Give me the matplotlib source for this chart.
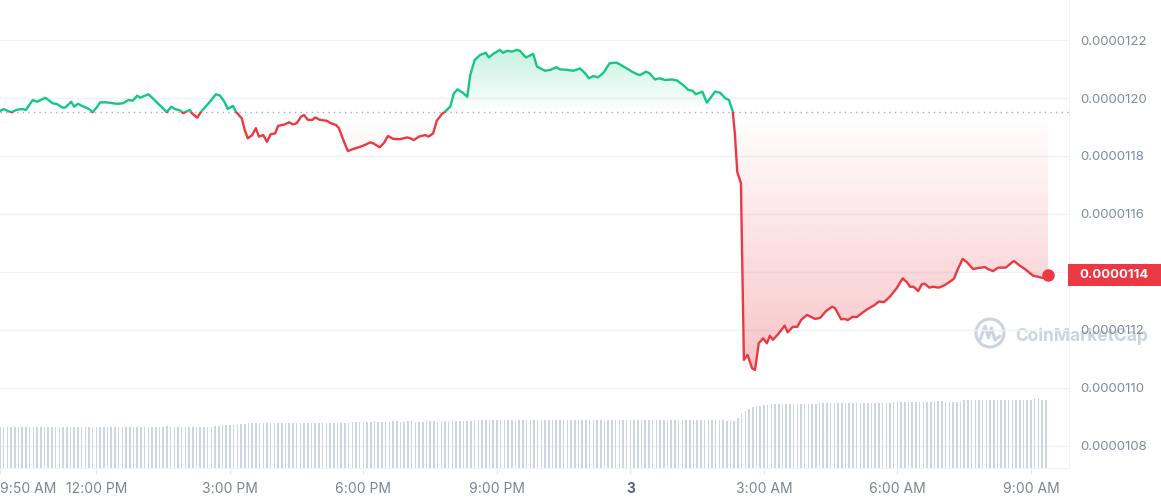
import numpy as np
import matplotlib.pyplot as plt
import matplotlib.transforms as mtransforms
from matplotlib.patches import Rectangle, Circle
from matplotlib.path import Path
from matplotlib.colors import to_rgb

plt.rcParams['font.family'] = ['Inter', 'DejaVu Sans']

START_H = 9 + 50 / 60  # chart starts at 9:50 AM

# minutes since 9:50 AM, price in units of 1e-7
minutes = [
    0, 5, 11, 16, 22, 30, 35, 44, 50, 61, 71, 77, 84, 88, 96, 100, 105, 111, 119, 125,
    131, 135, 144, 158, 166, 173, 179, 185, 189, 200, 206, 225, 231, 236, 243, 247, 256,
    259, 266, 270, 276, 283, 291, 297, 303, 307, 314, 318, 321, 326, 330, 334, 340, 345, 349, 355, 360,
    365, 371, 375, 384, 390, 395, 400, 406, 410, 415, 421, 425, 431, 441, 446, 453, 457, 462, 469, 476,
    485, 492, 499,
    503, 512, 518, 523, 530, 539, 549, 553, 558, 565, 573, 578, 584, 589, 596, 600, 607, 612, 617, 624,
    630, 634, 640, 647, 655, 659, 665, 674, 678, 684, 690, 697, 701, 709, 719, 724, 731,
    735, 742, 750, 755, 764, 773, 782, 789, 794, 800, 806, 813, 822, 831, 835, 845, 852, 859, 863, 871,
    876, 883, 889, 897, 906, 913, 921, 928, 934, 938, 947, 953, 959, 964, 971, 978, 983, 988,
    991, 994, 999, 1003, 1008, 1014, 1018, 1023, 1029, 1034, 1038, 1042, 1049, 1058, 1062, 1069, 1075,
    1080, 1088, 1099, 1106, 1114, 1122, 1126, 1134, 1139, 1143, 1150, 1155, 1162, 1169, 1178, 1185, 1192,
    1200, 1209, 1217, 1223, 1227, 1232, 1238, 1243, 1247, 1253, 1258, 1266, 1274, 1281, 1286, 1292,
    1298, 1304, 1312, 1317, 1328, 1332, 1339, 1346, 1356, 1367, 1375, 1382, 1393, 1399, 1406, 1413,
]
price_e7 = [
    119.55, 119.62, 119.55, 119.51, 119.59, 119.62, 119.59, 119.93, 119.87, 120.01, 119.82, 119.79,
    119.67, 119.67, 119.87, 119.70, 119.80, 119.72, 119.64, 119.51, 119.70, 119.85, 119.85, 119.80,
    119.82, 119.93, 119.91, 120.08, 120.01, 120.13, 119.99, 119.51, 119.70, 119.62, 119.57, 119.48, 119.59,
    119.47, 119.32, 119.49, 119.67, 119.87, 120.13, 120.08, 119.85, 119.62, 119.73, 119.53, 119.44,
    119.30, 118.90, 118.61, 118.72, 118.96, 118.67, 118.72, 118.49, 118.75, 118.78, 119.04, 119.09,
    119.16, 119.09, 119.13, 119.36, 119.41, 119.25, 119.24, 119.33, 119.25, 119.21, 119.13, 119.07,
    118.96, 118.61, 118.17, 118.24, 118.31, 118.38, 118.47,
    118.44, 118.30, 118.46, 118.69, 118.59, 118.58, 118.64, 118.61, 118.55, 118.67, 118.72, 118.67,
    118.78, 119.22, 119.45, 119.53, 119.70, 120.16, 120.30, 120.18, 120.04, 120.79, 121.31, 121.48,
    121.56, 121.40, 121.52, 121.66, 121.56, 121.63, 121.60, 121.66, 121.63, 121.40, 121.52, 121.08, 120.99,
    120.94, 120.97, 121.06, 120.99, 120.97, 120.94, 121.02, 120.85, 120.68, 120.76, 120.71, 120.85,
    121.20, 121.22, 121.17, 121.02, 120.91, 120.82, 120.79, 120.91, 120.85, 120.64, 120.68, 120.62,
    120.64, 120.60, 120.45, 120.28, 120.25, 120.13, 120.22, 119.84, 120.04, 120.22, 120.18, 119.99,
    119.93, 119.53,
    118.72, 117.46, 117.06, 110.97, 111.14, 110.68, 110.62, 111.54, 111.71, 111.54, 111.80, 111.66,
    111.85, 112.15, 111.92, 112.11, 112.11, 112.34, 112.52, 112.38, 112.42, 112.66, 112.80, 112.75,
    112.37, 112.38, 112.34, 112.46, 112.44, 112.58, 112.71, 112.84, 112.98, 112.96,
    113.15, 113.44, 113.78, 113.64, 113.49, 113.49, 113.34, 113.58, 113.59, 113.46, 113.49, 113.46,
    113.55, 113.67, 113.76, 114.13, 114.45, 114.33, 114.10, 114.13, 114.17, 114.10, 114.03, 114.15,
    114.15, 114.38, 114.22, 114.10, 113.87, 113.84, 113.79, 113.90,
]
baseline_e7 = 119.52

# volume bars, one every 5 minutes (relative height)
volume = [
    41.5, 41.5, 41.5, 41.5, 41.5, 41.5, 41.5, 41.5, 41.5, 41.5, 41.5, 41.5,
    41.5, 41.5, 41.5, 41.5, 41.5, 41.5, 41.5, 41.5, 41.5, 41.5, 41.5, 41.5,
    41.5, 41.5, 41.5, 41.5, 41.5, 41.5, 41.5, 41.5, 41.5, 41.5, 41.5, 41.5,
    41.5, 41.5, 41.5, 41.5, 41.5, 41.5, 41.5, 41.5, 41.5, 42.5, 41.5, 41.5,
    41.5, 41.5, 41.5, 41.5, 41.5, 41.5, 41.5, 41.5, 41.5, 41.5, 42.5, 42.5,
    43, 43, 43.5, 43.5, 44, 44, 44.5, 45.5, 45.5, 45.5, 45.5, 45.5,
    45.5, 45.5, 45.5, 45.5, 45.5, 45.5, 45.5, 45.5, 45.5, 45.5, 45.5, 45.5,
    45.5, 45.5, 45.5, 45.5, 45.5, 45.5, 45.5, 45, 45, 45.5, 45.5, 46,
    46.5, 46, 46.5, 46.5, 46.5, 47, 46.5, 46.5, 46, 46.5, 47, 47,
    46.5, 46.5, 47, 47, 46.5, 46, 46.5, 47, 47, 47, 46.5, 47,
    47, 47, 47, 47, 47, 47, 47, 47, 48, 48, 48, 48,
    48, 48, 48, 48, 48, 48, 48, 48, 48, 48, 48, 48,
    48, 48, 48, 48, 48, 48, 48, 48, 48, 48, 48, 48,
    48, 48, 48, 48, 48, 48, 48, 48, 48, 48, 48, 48,
    48, 48, 48, 48, 48, 48, 48, 48, 48, 48, 48, 48,
    48, 48, 48, 48, 48, 48, 48, 48, 48, 48, 48, 48,
    48, 48, 48, 48, 47.5, 47, 47, 50, 54, 57, 59.5, 61,
    62, 62.5, 63, 63.5, 64, 64, 64, 64, 64.5, 64.5, 64.5, 64.5,
    64.5, 64.5, 64.5, 64.5, 64.5, 65, 65, 65, 65, 65, 65, 65,
    65, 65, 65, 65.5, 65.5, 65.5, 65.5, 65.5, 65.5, 65.5, 65.5, 65.5,
    65.5, 66, 66, 66, 66, 66, 66, 66, 66, 66, 66, 66,
    66, 67, 67, 66.5, 66.5, 66.5, 66.5, 66.5, 68, 68, 68, 68,
    68, 68, 68, 68, 68, 68, 68, 68, 68, 68, 68, 68,
    68, 68, 68, 69.5, 70, 68.5, 68.5,
]

x_ticks_h = [START_H, 12, 15, 18, 21, 24, 27, 30, 33]
x_tick_labels = ['9:50 AM', '12:00 PM', '3:00 PM', '6:00 PM', '9:00 PM', '3', '3:00 AM', '6:00 AM', '9:00 AM']
y_ticks_e7 = [108, 110, 112, 114, 116, 118, 120, 122]

GREEN = '#16c784'
RED = '#ea3943'
LABEL = '#808a9d'

t = START_H + np.array(minutes) / 60
p = np.array(price_e7) * 1e-7
base = baseline_e7 * 1e-7
ylo, yhi = 107.24e-7, 123.38e-7

fig = plt.figure(figsize=(11.61, 5.0), dpi=100)
ax = fig.add_axes([0, 0.064, 1069 / 1161, 0.936])
ax.patch.set_visible(False)


def gradient_fill(curve, y_from, y_to, color, amax):
    # polygon between the curve and the baseline, filled with a vertical alpha ramp
    verts = np.vstack([[t[0], base], np.column_stack([t, curve]), [t[-1], base], [t[0], base]])
    path = Path(verts, closed=True)
    ramp = np.linspace(0, 1, 256)[:, None]
    img = np.zeros((256, 1, 4))
    img[..., :3] = to_rgb(color)
    img[..., 3] = ramp * amax
    lo, hi = min(y_from, y_to), max(y_from, y_to)
    im = ax.imshow(img if y_to > y_from else img[::-1], extent=[t[0], t[-1], lo, hi],
                   origin='lower', aspect='auto', zorder=1, interpolation='bilinear')
    im.set_clip_path(path, ax.transData)


gradient_fill(np.maximum(p, base), base, p.max(), GREEN, 0.24)
gradient_fill(np.minimum(p, base), base, p.min(), RED, 0.30)

ax.axhline(base, color='#a6b0c3', lw=1, ls=(0, (1, 3)), zorder=2)

for color, y0, y1 in [(GREEN, base, 1e-4), (RED, 0, base)]:
    line, = ax.plot(t, p, color=color, lw=1.7, zorder=3, solid_joinstyle='round')
    line.set_clip_path(Rectangle((t[0] - 1, y0), 40, y1 - y0, transform=ax.transData))

ax.plot(t[-1], p[-1], 'o', color=RED, ms=8, zorder=4)

# volume bars
vax = ax.twinx()
vt = START_H + np.arange(len(volume)) * 5 / 60
vax.bar(vt, volume, width=0.034, color='#cdd4e2', zorder=1)
vax.set_ylim(0, 6.7 * max(volume))
vax.set_yticks([])
for s in vax.spines.values():
    s.set_visible(False)

ax.set_xlim(START_H, START_H + 1069 / 44.5)
ax.set_ylim(ylo, yhi)
ax.set_yticks([v * 1e-7 for v in y_ticks_e7])
# the current-price tag replaces the 0.0000114 tick label
ax.set_yticklabels(['' if v == 114 else f'{v * 1e-7:.7f}' for v in y_ticks_e7])
ax.yaxis.tick_right()
ax.grid(axis='y', color='#eff2f5', lw=1)
ax.set_axisbelow(True)
ax.tick_params(axis='y', length=0, pad=8, labelsize=9.5, labelcolor=LABEL)

ax.set_xticks(x_ticks_h)
ax.set_xticklabels(x_tick_labels)
ax.tick_params(axis='x', length=4, color='#e6e9ee', pad=6, labelsize=10, labelcolor='#7b8496')
lbls = ax.get_xticklabels()
lbls[0].set_ha('left')
lbls[5].set_fontweight('bold')
lbls[5].set_color('#58667e')

for side in ['top', 'left']:
    ax.spines[side].set_visible(False)
for side in ['right', 'bottom']:
    ax.spines[side].set_color('#eff2f5')

# current price tag
trans = mtransforms.blended_transform_factory(ax.transAxes, ax.transData)
box_h = (yhi - ylo) * 22 / 468
ax.add_patch(Rectangle((0.999, p[-1] - box_h / 2), 0.09, box_h, transform=trans,
                       facecolor=RED, edgecolor='none', clip_on=False, zorder=5))
ax.text(1.0095, p[-1], f'{p[-1]:.7f}', transform=trans, color='white', fontweight='bold',
        fontsize=9.5, va='center', ha='left', zorder=6, clip_on=False)

# watermark
wm = '#ccd4e0'
fig.patches.append(Circle((9.90, 1.67), 0.14, transform=fig.dpi_scale_trans, fill=False,
                          ec=wm, lw=2.2, zorder=-1))
fig.lines.append(plt.Line2D([9.80, 9.85, 9.885, 9.915, 9.95, 10.0], [1.60, 1.74, 1.62, 1.72, 1.60, 1.64],
                            transform=fig.dpi_scale_trans, color=wm, lw=2.2, zorder=-1,
                            solid_joinstyle='round', solid_capstyle='round'))
fig.text(1015 / 1161, 1 - 336 / 500, 'CoinMarketCap', color=wm, fontsize=12.5, fontweight='bold',
         va='center', ha='left', zorder=-1)

fig.savefig('out.png', dpi=100, facecolor='white')
